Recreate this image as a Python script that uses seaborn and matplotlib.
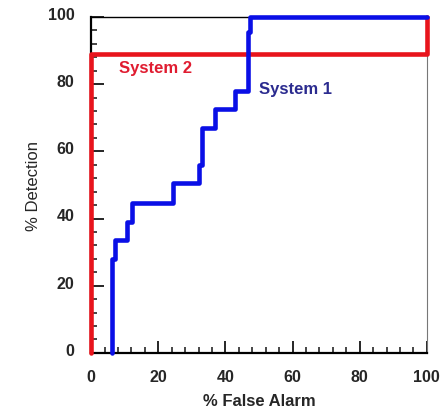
import matplotlib
matplotlib.use("Agg")
import matplotlib.pyplot as plt
import matplotlib.transforms as mtrans
import seaborn as sns
import pandas as pd
from matplotlib.ticker import MultipleLocator

# ROC vertices (step points, % false alarm vs % detection)
sys1_fa = [6.3, 6.3, 7.2, 10.7, 12.2, 24.3, 32.0, 33.0, 37.0, 43.0, 46.7, 47.4, 100]
sys1_det = [0, 28, 33.5, 39, 44.5, 50.5, 56, 67, 72.5, 78, 95.5, 100, 100]
sys2_fa = [0, 0, 100, 100]
sys2_det = [0, 89, 89, 100]
x_ticks = [0, 20, 40, 60, 80, 100]
y_ticks = [0, 20, 40, 60, 80, 100]

sns.set_style("ticks")
plt.rcParams['font.family'] = ['Liberation Sans', 'DejaVu Sans']

fig = plt.figure(figsize=(4.4, 4.1), dpi=100)
ax = fig.add_axes([0.207, 0.137, 0.763, 0.819])

df1 = pd.DataFrame({"fa": sys1_fa, "det": sys1_det})
df2 = pd.DataFrame({"fa": sys2_fa, "det": sys2_det})

sns.lineplot(data=df2, x="fa", y="det", sort=False, estimator=None, ax=ax,
             color="#e8141c", linewidth=3.3, clip_on=False, zorder=4)
sns.lineplot(data=df1, x="fa", y="det", sort=False, estimator=None, ax=ax,
             color="#0a0fe6", linewidth=3.3, drawstyle="steps-post",
             clip_on=False, zorder=5)

ax.set_xlim(0, 100)
ax.set_ylim(0, 100)
ax.set_xticks(x_ticks)
ax.set_yticks(y_ticks)
ax.xaxis.set_minor_locator(MultipleLocator(4))
ax.yaxis.set_minor_locator(MultipleLocator(4))
ax.tick_params(which="major", direction="in", length=9, width=1.4,
               labelsize=11.5)
ax.tick_params(axis="x", which="major", pad=12)
ax.tick_params(axis="y", which="major", pad=12)
ax.tick_params(which="minor", direction="in", length=4.5, width=1.2)
shift = mtrans.ScaledTranslation(0, 3 / 72, fig.dpi_scale_trans)
for lab in ax.get_xticklabels() + ax.get_yticklabels():
    lab.set_fontweight("bold")
for lab in ax.get_yticklabels():
    lab.set_transform(lab.get_transform() + shift)

for side in ["left", "bottom", "top"]:
    ax.spines[side].set_color("black")
ax.spines["bottom"].set_linewidth(1.6)
ax.spines["left"].set_linewidth(1.6)
ax.spines["top"].set_linewidth(1.0)
ax.spines["right"].set_color("#777777")
ax.spines["right"].set_linewidth(0.8)

ax.set_xlabel("% False Alarm", fontsize=12, fontweight="bold", labelpad=6)
ax.set_ylabel("% Detection", fontsize=12, labelpad=5)

ax.text(8.3, 85.1, "System 2", color="#e01c30", fontsize=12, fontweight="bold",
        va="center", ha="left")
ax.text(50.0, 78.6, "System 1", color="#2b2b8f", fontsize=12, fontweight="bold",
        va="center", ha="left")

fig.savefig("out.png", dpi=100)
